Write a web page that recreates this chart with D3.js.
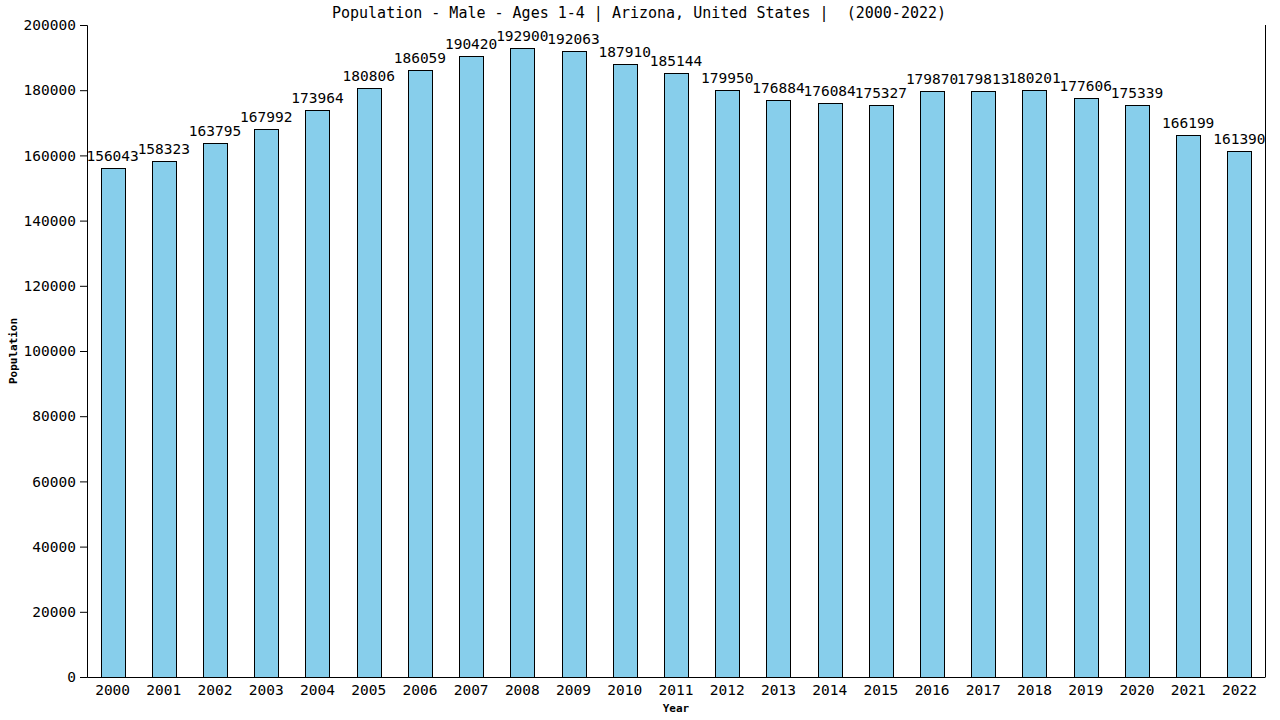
<!DOCTYPE html>
<html>
<head>
<meta charset="utf-8">
<script src="https://cdn.jsdelivr.net/npm/d3@7"></script>
<style>
  body { margin: 0; background: #fff; }
  svg text { font-family: "DejaVu Sans Mono", monospace; fill: #000; }
</style>
</head>
<body>
<div id="chart"></div>
<script>
const years = ["2000", "2001", "2002", "2003", "2004", "2005", "2006", "2007", "2008", "2009", "2010", "2011",
    "2012", "2013", "2014", "2015", "2016", "2017", "2018", "2019", "2020", "2021", "2022"];
const population = [156043, 158323, 163795, 167992, 173964, 180806, 186059, 190420, 192900, 192063, 187910, 185144,
    179950, 176884, 176084, 175327, 179870, 179813, 180201, 177606, 175339, 166199, 161390];
const yTicks = [0, 20000, 40000, 60000, 80000, 100000, 120000, 140000, 160000, 180000, 200000];
const title = "Population - Male - Ages 1-4 | Arizona, United States |  (2000-2022)";

const W = 1280, H = 720;
const margin = { top: 25, right: 15, bottom: 43, left: 87 };
const width = W - margin.left - margin.right;
const height = H - margin.top - margin.bottom;

const svg = d3.select("#chart").append("svg")
    .attr("width", W)
    .attr("height", H);

const g = svg.append("g")
    .attr("transform", "translate(" + margin.left + "," + margin.top + ")");

const x = d3.scaleBand().domain(years).range([0, width]).paddingInner(0.53).paddingOuter(0.265);
const y = d3.scaleLinear().domain([0, 200000]).range([height, 0]);

// bars
g.selectAll(".bar")
    .data(years)
    .enter().append("rect")
    .attr("class", "bar")
    .attr("x", (d, i) => Math.round(x(d)) + 0.5)
    .attr("y", (d, i) => Math.round(y(population[i])) + 0.5)
    .attr("width", Math.round(x.bandwidth()))
    .attr("height", (d, i) => height - Math.round(y(population[i])))
    .attr("fill", "#87ceeb")
    .attr("stroke", "#000")
    .attr("stroke-width", 1);

// value labels
g.selectAll(".val")
    .data(years)
    .enter().append("text")
    .attr("class", "val")
    .attr("x", d => x(d) + x.bandwidth() / 2)
    .attr("y", (d, i) => y(population[i]) - 7)
    .attr("text-anchor", "middle")
    .style("font-size", "14.5px")
    .text((d, i) => population[i]);

// y axis
const yAxis = g.append("g")
    .call(d3.axisLeft(y).tickValues(yTicks).tickSize(7).tickPadding(4).tickFormat(d => d));
yAxis.selectAll("text").style("font-size", "14.5px");
yAxis.selectAll("line, path").attr("stroke", "#000");

// x axis
const xAxis = g.append("g")
    .attr("transform", "translate(0," + height + ")")
    .call(d3.axisBottom(x).tickSize(0).tickPadding(8));
xAxis.selectAll("text").style("font-size", "14.5px");
xAxis.select("path").attr("stroke", "#000");

// right border
g.append("line")
    .attr("x1", width + 0.5).attr("x2", width + 0.5)
    .attr("y1", 0).attr("y2", height)
    .attr("stroke", "#000");

// title + axis titles
svg.append("text")
    .attr("x", 639)
    .attr("y", 18)
    .attr("text-anchor", "middle")
    .style("font-size", "15px")
    .style("white-space", "pre")
    .text(title);

svg.append("text")
    .attr("x", margin.left + width / 2)
    .attr("y", 712)
    .attr("text-anchor", "middle")
    .style("font-size", "11px")
    .style("font-weight", "bold")
    .text("Year");

svg.append("text")
    .attr("transform", "translate(17," + (margin.top + height / 2) + ") rotate(-90)")
    .attr("text-anchor", "middle")
    .style("font-size", "11px")
    .style("font-weight", "bold")
    .text("Population");
</script>
</body>
</html>
